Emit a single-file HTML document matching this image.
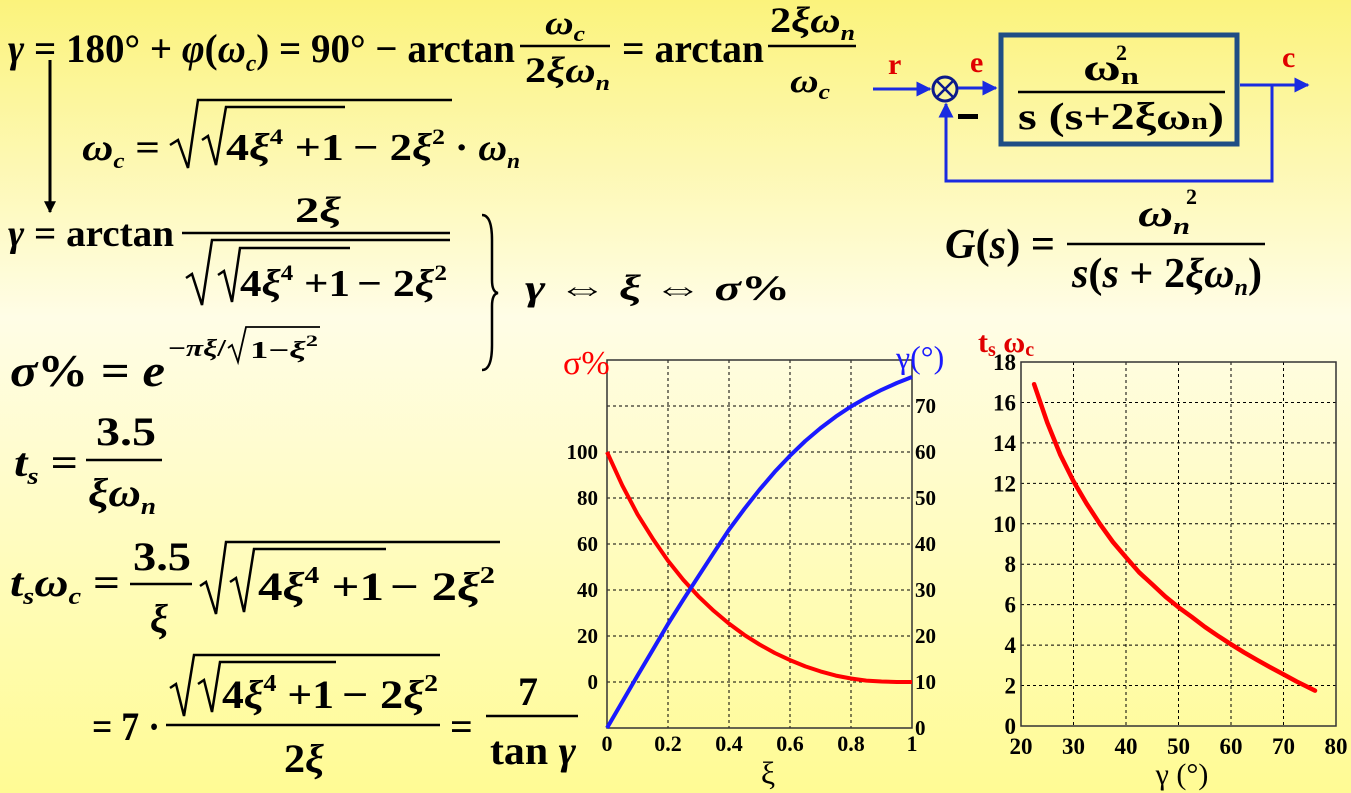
<!DOCTYPE html>
<html><head><meta charset="utf-8"><style>
html,body{margin:0;padding:0;}
body{width:1351px;height:793px;overflow:hidden;}
svg{display:block;font-family:"Liberation Serif",serif;font-weight:bold;}
.i{font-style:italic;}
</style></head><body>
<svg id="slide" width="1351" height="793" viewBox="0 0 1351 793" xmlns="http://www.w3.org/2000/svg">
<defs>
<linearGradient id="bg" x1="0" y1="0" x2="0" y2="1">
<stop offset="0" stop-color="#fbf37c"/><stop offset="0.4" stop-color="#fffde6"/><stop offset="1" stop-color="#fffb94"/>
</linearGradient>
<marker id="ah" viewBox="0 0 10 10" refX="9" refY="5" markerWidth="5" markerHeight="5" orient="auto"><path d="M0,0 L10,5 L0,10 z" fill="#1a2be0"/></marker>
<marker id="ahk" viewBox="0 0 10 10" refX="9" refY="5" markerWidth="4" markerHeight="5" orient="auto"><path d="M0,0 L10,5 L0,10 z" fill="#000"/></marker>
</defs>
<rect width="1351" height="793" fill="url(#bg)"/>

<g font-size="40">
<text x="8" y="62" textLength="507" lengthAdjust="spacingAndGlyphs"><tspan class="i">γ</tspan> = 180° + <tspan class="i">φ</tspan>(<tspan class="i">ω</tspan><tspan class="i" font-size="24" dy="9">c</tspan><tspan dy="-9">) = 90° − arctan</tspan></text>
<text x="545" y="34" font-size="34" textLength="40" lengthAdjust="spacingAndGlyphs"><tspan class="i">ω</tspan><tspan class="i" font-size="22" dy="7">c</tspan></text>
<line x1="520" y1="46" x2="610" y2="46" stroke="#000" stroke-width="2.5"/>
<text x="525" y="82" font-size="36" textLength="85" lengthAdjust="spacingAndGlyphs">2<tspan class="i">ξω</tspan><tspan class="i" font-size="22" dy="8">n</tspan></text>
<text x="622" y="62" textLength="142" lengthAdjust="spacingAndGlyphs">= arctan</text>
<text x="770" y="32" font-size="36" textLength="85" lengthAdjust="spacingAndGlyphs">2<tspan class="i">ξω</tspan><tspan class="i" font-size="22" dy="8">n</tspan></text>
<line x1="768" y1="46" x2="856" y2="46" stroke="#000" stroke-width="2.5"/>
<text x="790" y="92" font-size="34" textLength="40" lengthAdjust="spacingAndGlyphs"><tspan class="i">ω</tspan><tspan class="i" font-size="22" dy="7">c</tspan></text>
</g>
<line x1="50" y1="60" x2="50" y2="212" stroke="#000" stroke-width="3" marker-end="url(#ahk)"/>

<g font-size="38">
<text x="82" y="160" textLength="78" lengthAdjust="spacingAndGlyphs"><tspan class="i">ω</tspan><tspan class="i" font-size="22" dy="8">c</tspan><tspan dy="-8"> =</tspan></text>
<polyline points="170,145 178,140 188,168 198,100 452,100" fill="none" stroke="#000" stroke-width="2.5"/>
<polyline points="202,140 208,136 216,165 226,107 345,107" fill="none" stroke="#000" stroke-width="2.5"/>
<text x="226" y="160" textLength="118" lengthAdjust="spacingAndGlyphs">4<tspan class="i">ξ</tspan><tspan font-size="22" dy="-16">4</tspan><tspan dy="16"> +1</tspan></text>
<text x="353" y="160" textLength="92" lengthAdjust="spacingAndGlyphs">− 2<tspan class="i">ξ</tspan><tspan font-size="22" dy="-16">2</tspan></text>
<text x="455" y="160" textLength="65" lengthAdjust="spacingAndGlyphs">· <tspan class="i">ω</tspan><tspan class="i" font-size="22" dy="8">n</tspan></text>
</g>

<g font-size="38">
<text x="8" y="246" textLength="166" lengthAdjust="spacingAndGlyphs"><tspan class="i">γ</tspan> = arctan</text>
<text x="295" y="222" font-size="36" textLength="46" lengthAdjust="spacingAndGlyphs">2<tspan class="i">ξ</tspan></text>
<line x1="182" y1="233" x2="450" y2="233" stroke="#000" stroke-width="2.5"/>
<polyline points="186,278 192,274 202,305 212,240 450,240" fill="none" stroke="#000" stroke-width="2.5"/>
<polyline points="218,275 224,271 232,302 240,248 350,248" fill="none" stroke="#000" stroke-width="2.5"/>
<text x="240" y="296" textLength="110" lengthAdjust="spacingAndGlyphs">4<tspan class="i">ξ</tspan><tspan font-size="22" dy="-16">4</tspan><tspan dy="16"> +1</tspan></text>
<text x="357" y="296" textLength="90" lengthAdjust="spacingAndGlyphs">− 2<tspan class="i">ξ</tspan><tspan font-size="22" dy="-16">2</tspan></text>
</g>
<path d="M482,215 Q492,215 492,240 L492,280 Q492,292 498,293 Q492,294 492,306 L492,345 Q492,370 482,370" fill="none" stroke="#000" stroke-width="2.5"/>
<text x="525" y="300" font-size="36" textLength="265" lengthAdjust="spacingAndGlyphs"><tspan class="i">γ</tspan>  ⇔ <tspan class="i">ξ</tspan>  ⇔  <tspan class="i">σ</tspan>%</text>

<g>
<text x="10" y="386" font-size="46" textLength="155" lengthAdjust="spacingAndGlyphs"><tspan class="i">σ</tspan>% = <tspan class="i">e</tspan></text>
<text x="168" y="356" font-size="24" textLength="58" lengthAdjust="spacingAndGlyphs">−<tspan class="i">πξ</tspan>/</text>
<polyline points="228,348 232,345 238,362 246,327 320,327" fill="none" stroke="#000" stroke-width="1.8"/>
<text x="250" y="358" font-size="24" textLength="68" lengthAdjust="spacingAndGlyphs">1−<tspan class="i">ξ</tspan><tspan font-size="16" dy="-12">2</tspan></text>
</g>

<g font-size="40">
<text x="14" y="476" textLength="64" lengthAdjust="spacingAndGlyphs"><tspan class="i">t</tspan><tspan class="i" font-size="24" dy="8">s</tspan><tspan dy="-8"> =</tspan></text>
<text x="96" y="445" textLength="60" lengthAdjust="spacingAndGlyphs">3.5</text>
<line x1="86" y1="460" x2="162" y2="460" stroke="#000" stroke-width="2.5"/>
<text x="88" y="506" textLength="68" lengthAdjust="spacingAndGlyphs"><tspan class="i">ξω</tspan><tspan class="i" font-size="24" dy="8">n</tspan></text>
</g>
<g font-size="40">
<text x="10" y="596" textLength="110" lengthAdjust="spacingAndGlyphs"><tspan class="i">t</tspan><tspan class="i" font-size="24" dy="8">s</tspan><tspan class="i" dy="-8">ω</tspan><tspan class="i" font-size="24" dy="8">c</tspan><tspan dy="-8"> =</tspan></text>
<text x="133" y="570" textLength="58" lengthAdjust="spacingAndGlyphs">3.5</text>
<line x1="130" y1="584" x2="192" y2="584" stroke="#000" stroke-width="2.5"/>
<text class="i" x="150" y="632">ξ</text>
<polyline points="200,586 206,582 216,614 226,542 500,542" fill="none" stroke="#000" stroke-width="2.5"/>
<polyline points="230,582 236,578 244,612 254,549 386,549" fill="none" stroke="#000" stroke-width="2.5"/>
<text x="258" y="600" textLength="126" lengthAdjust="spacingAndGlyphs">4<tspan class="i">ξ</tspan><tspan font-size="24" dy="-17">4</tspan><tspan dy="17"> +1</tspan></text>
<text x="390" y="600" textLength="105" lengthAdjust="spacingAndGlyphs">− 2<tspan class="i">ξ</tspan><tspan font-size="24" dy="-17">2</tspan></text>

<text x="92" y="740" textLength="68" lengthAdjust="spacingAndGlyphs">= 7 ·</text>
<polyline points="170,688 176,684 184,716 194,655 440,655" fill="none" stroke="#000" stroke-width="2.5"/>
<polyline points="198,684 204,680 212,712 220,662 336,662" fill="none" stroke="#000" stroke-width="2.5"/>
<text x="222" y="708" textLength="112" lengthAdjust="spacingAndGlyphs">4<tspan class="i">ξ</tspan><tspan font-size="24" dy="-17">4</tspan><tspan dy="17"> +1</tspan></text>
<text x="342" y="708" textLength="96" lengthAdjust="spacingAndGlyphs">− 2<tspan class="i">ξ</tspan><tspan font-size="24" dy="-17">2</tspan></text>
<line x1="166" y1="725" x2="440" y2="725" stroke="#000" stroke-width="2.5"/>
<text x="284" y="772" textLength="40" lengthAdjust="spacingAndGlyphs">2<tspan class="i">ξ</tspan></text>
<text x="450" y="740">=</text>
<text x="518" y="705">7</text>
<line x1="486" y1="716" x2="578" y2="716" stroke="#000" stroke-width="2.5"/>
<text x="490" y="764" textLength="86" lengthAdjust="spacingAndGlyphs">tan <tspan class="i">γ</tspan></text>
</g>

<g>
<line x1="873" y1="89" x2="930" y2="89" stroke="#1a2be0" stroke-width="3" marker-end="url(#ah)"/>
<text x="888" y="74" font-size="30" fill="#e00000">r</text>
<g>
<circle cx="945" cy="89" r="12" fill="none" stroke="#0d1a8a" stroke-width="3"/>
<line x1="937" y1="81" x2="953" y2="97" stroke="#0d1a8a" stroke-width="2.5"/><line x1="953" y1="81" x2="937" y2="97" stroke="#0d1a8a" stroke-width="2.5"/>
</g>
<line x1="958" y1="88" x2="996" y2="88" stroke="#1a2be0" stroke-width="3" marker-end="url(#ah)"/>
<text x="970" y="72" font-size="30" fill="#e00000">e</text>
<rect x="958" y="114" width="20" height="5" fill="#000"/>
<rect x="1001" y="35" width="236" height="109" fill="none" stroke="#1f4e85" stroke-width="5"/>
<text x="1083" y="80" font-size="38" textLength="56" lengthAdjust="spacingAndGlyphs">ω<tspan font-size="24" dy="4">n</tspan></text>
<text x="1116" y="60" font-size="22">2</text>
<line x1="1018" y1="92" x2="1225" y2="92" stroke="#000" stroke-width="2.5"/>
<text x="1018" y="129" font-size="38" textLength="206" lengthAdjust="spacingAndGlyphs">s (s+2ξω<tspan font-size="24">n</tspan>)</text>
<polyline points="1240,85 1272,85 1272,181 946,181 946,104" fill="none" stroke="#1a2be0" stroke-width="3" marker-end="url(#ah)"/>
<line x1="1272" y1="85" x2="1308" y2="85" stroke="#1a2be0" stroke-width="3" marker-end="url(#ah)"/>
<text x="1282" y="67" font-size="30" fill="#e00000">c</text>
</g>

<g font-size="42">
<text x="945" y="258" textLength="110" lengthAdjust="spacingAndGlyphs"><tspan class="i">G</tspan>(<tspan class="i">s</tspan>) =</text>
<text class="i" x="1138" y="226" font-size="38" textLength="52" lengthAdjust="spacingAndGlyphs">ω<tspan font-size="24" dy="8">n</tspan></text>
<text x="1186" y="204" font-size="22">2</text>
<line x1="1067" y1="244" x2="1265" y2="244" stroke="#000" stroke-width="2.5"/>
<text x="1072" y="287" textLength="190" lengthAdjust="spacingAndGlyphs"><tspan class="i">s</tspan>(<tspan class="i">s</tspan> + 2<tspan class="i">ξω</tspan><tspan class="i" font-size="24" dy="8">n</tspan><tspan dy="-8">)</tspan></text>
</g>

<g id="chart1"></g>
<g id="chart2"></g>
</svg>
<script>
// chart 1 data
const xiVals = [0, 0.05, 0.1, 0.15, 0.2, 0.25, 0.3, 0.35, 0.4, 0.45, 0.5, 0.55, 0.6, 0.65, 0.7, 0.75, 0.8, 0.85, 0.9, 0.95, 1.0];
const sigmaVals = [100, 85.5, 72.9, 62.3, 52.7, 44.4, 37.2, 30.9, 25.4, 20.5, 16.3, 12.6, 9.5, 6.8, 4.6, 2.8, 1.5, 0.6, 0.2, 0, 0];
const gammaVals = [0, 5.7, 11.4, 17.0, 22.6, 27.9, 33.0, 38.1, 43.1, 47.6, 51.8, 55.7, 59.2, 62.4, 65.2, 67.7, 69.9, 71.8, 73.5, 75.0, 76.3];
const xiTicks = ["0", "0.2", "0.4", "0.6", "0.8", "1"];
const sigmaTicks = ["0", "20", "40", "60", "80", "100"];
const gammaTicks = ["0", "10", "20", "30", "40", "50", "60", "70"];
// chart 2 data
const gammaDeg = [22.5, 25, 27.5, 30, 32.5, 35, 37.5, 40, 42.5, 45, 47.5, 50, 52.5, 55, 57.5, 60, 62.5, 65, 67.5, 70, 72.5, 76];
const tswcVals = [16.9, 15.0, 13.4, 12.1, 11.0, 10.0, 9.1, 8.34, 7.6, 7.0, 6.4, 5.87, 5.4, 4.9, 4.46, 4.04, 3.64, 3.26, 2.9, 2.55, 2.2, 1.75];
const gTicks = ["20", "30", "40", "50", "60", "70", "80"];
const tTicks = ["0", "2", "4", "6", "8", "10", "12", "14", "16", "18"];

const NS = "http://www.w3.org/2000/svg";
function mk(parent, tag, attrs, txt) {
  const e = document.createElementNS(NS, tag);
  for (const k in attrs) e.setAttribute(k, attrs[k]);
  if (txt !== undefined) e.textContent = txt;
  parent.appendChild(e);
  return e;
}
function path(xs, ys, fx, fy) {
  return xs.map((v, i) => (i ? "L" : "M") + fx(v).toFixed(1) + "," + fy(ys[i]).toFixed(1)).join(" ");
}

(function () {
  const g = document.getElementById("chart1");
  const L = 607, R = 912, T = 360, B = 728;
  const xS = v => L + (R - L) * v;
  const yR = v => B - (B - T) * v / 80;
  const yL = v => yR(v / 2 + 10);
  for (let i = 1; i < xiTicks.length - 1; i++) {
    const x = xS(parseFloat(xiTicks[i]));
    const gl = mk(g, "line", {x1: x, y1: T, x2: x, y2: B, stroke: "#000", "stroke-width": 1, "stroke-dasharray": "3,3"});
    
    
  }
  for (let i = 1; i < gammaTicks.length; i++) {
    const y = yR(parseFloat(gammaTicks[i]));
    const gl = mk(g, "line", {x1: L, y1: y, x2: R, y2: y, stroke: "#000", "stroke-width": 1, "stroke-dasharray": "3,3"});
    
    
  }
  const fr = mk(g, "rect", {x: L, y: T, width: R - L, height: B - T, fill: "none", stroke: "#333", "stroke-width": 1.5});
  
  
  xiTicks.forEach(t => {
    const e = mk(g, "text", {x: xS(parseFloat(t)), y: 751, "font-size": 22, "text-anchor": "middle"}, t);
    
    
  });
  sigmaTicks.forEach(t => {
    const e = mk(g, "text", {x: 598, y: yL(parseFloat(t)) + 7, "font-size": 21, "text-anchor": "end"}, t);
    
    
  });
  gammaTicks.forEach(t => {
    const e = mk(g, "text", {x: 915, y: yR(parseFloat(t)) + 7, "font-size": 21}, t);
    
    
  });
  const s = mk(g, "path", {d: path(xiVals, sigmaVals, xS, yL), fill: "none", stroke: "#ff0000", "stroke-width": 4, "stroke-linejoin": "round"});
  
  
  const gm = mk(g, "path", {d: path(xiVals, gammaVals, xS, yR), fill: "none", stroke: "#1a1aff", "stroke-width": 4, "stroke-linejoin": "round"});
  
  
  const t1 = mk(g, "text", {x: 563, y: 374, "font-size": 34, fill: "#ff0000", "font-weight": "normal"}, "σ%");
  
  
  const t2 = mk(g, "text", {x: 896, y: 368, "font-size": 32, fill: "#1a1aff", "font-weight": "normal"}, "γ(°)");
  
  
  const t3 = mk(g, "text", {x: 768, y: 784, "font-size": 32, "text-anchor": "middle", "font-weight": "normal"}, "ξ");
  
  
})();

(function () {
  const g = document.getElementById("chart2");
  const L = 1021, R = 1336, T = 362, B = 726;
  const xS = v => L + (R - L) * (v - 20) / 60;
  const yS = v => B - (B - T) * v / 18;
  for (let i = 1; i < gTicks.length - 1; i++) {
    const x = xS(parseFloat(gTicks[i]));
    const gl = mk(g, "line", {x1: x, y1: T, x2: x, y2: B, stroke: "#000", "stroke-width": 1, "stroke-dasharray": "3,3"});
    
    
  }
  for (let i = 1; i < tTicks.length - 1; i++) {
    const y = yS(parseFloat(tTicks[i]));
    const gl = mk(g, "line", {x1: L, y1: y, x2: R, y2: y, stroke: "#000", "stroke-width": 1, "stroke-dasharray": "3,3"});
    
    
  }
  const fr = mk(g, "rect", {x: L, y: T, width: R - L, height: B - T, fill: "none", stroke: "#333", "stroke-width": 1.5});
  
  
  gTicks.forEach(t => {
    const e = mk(g, "text", {x: xS(parseFloat(t)), y: 754, "font-size": 23, "text-anchor": "middle"}, t);
    
    
  });
  tTicks.forEach(t => {
    const e = mk(g, "text", {x: 1016, y: yS(parseFloat(t)) + 8, "font-size": 23, "text-anchor": "end"}, t);
    
    
  });
  const c = mk(g, "path", {d: path(gammaDeg, tswcVals, xS, yS), fill: "none", stroke: "#ff0000", "stroke-width": 4.5, "stroke-linejoin": "round", "stroke-linecap": "round"});
  
  
  const t1 = mk(g, "text", {x: 978, y: 352, "font-size": 30, fill: "#e00000"});
  
  
  mk(t1, "tspan", {}, "t");
  mk(t1, "tspan", {"font-size": 20, dy: 4}, "s");
  mk(t1, "tspan", {dy: -4}, " ω");
  mk(t1, "tspan", {"font-size": 20, dy: 4}, "c");
  const t3 = mk(g, "text", {x: 1182, y: 784, "font-size": 30, "text-anchor": "middle", "font-weight": "normal"}, "γ (°)");
  
  
})();
</script>
</body></html>
